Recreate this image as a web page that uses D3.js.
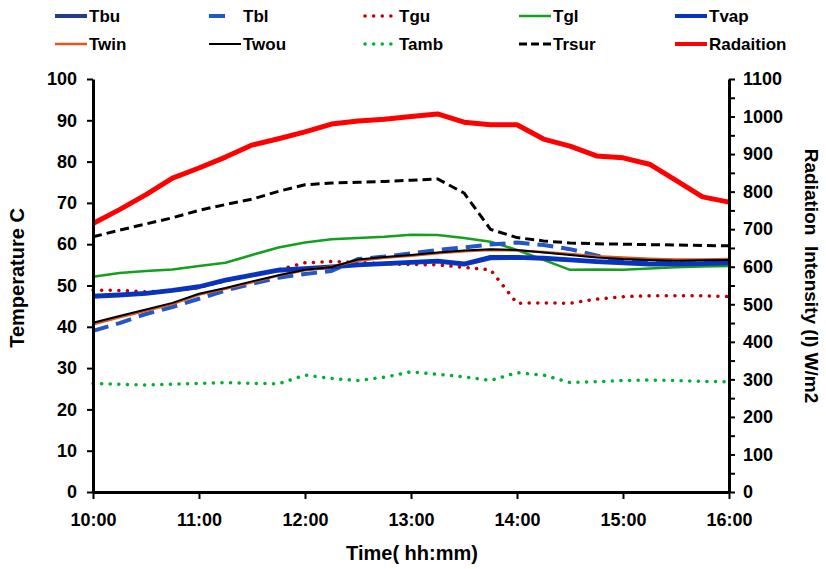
<!DOCTYPE html>
<html>
<head>
<meta charset="utf-8">
<script src="https://cdn.jsdelivr.net/npm/d3@7/dist/d3.min.js"></script>
<style>
  body { margin: 0; background: #fff; }
  text { font-family: "Liberation Sans", Arial, sans-serif; font-weight: bold; fill: #000; }
</style>
</head>
<body>
<svg id="chart" width="826" height="569"></svg>
<script>
// readings every 15 min
var times = ["10:00","10:15","10:30","10:45","11:00","11:15","11:30","11:45","12:00","12:15","12:30","12:45",
  "13:00","13:15","13:30","13:45","14:00","14:15","14:30","14:45","15:00","15:15","15:30","15:45","16:00"];
var hourTicks = ["10:00","11:00","12:00","13:00","14:00","15:00","16:00"];

var Tbu   = [47.3,47.6,48.0,48.7,49.6,51.2,52.4,53.6,54.0,54.4,54.9,55.2,55.5,55.8,55.1,56.6,56.7,56.5,56.1,55.7,55.4,55.1,55.1,55.2,55.4];
var Tbl   = [39.0,40.9,43.1,44.8,46.8,48.8,50.4,51.9,52.8,53.5,56.4,57.0,57.8,58.6,59.2,59.9,60.4,59.8,58.8,57.3,56.0,55.6,55.4,55.4,55.5];
var Tgu   = [48.9,48.8,48.5,48.7,49.5,51.2,52.5,53.8,55.5,55.8,55.6,55.2,55.1,55.0,54.4,53.8,45.7,45.8,45.7,46.7,47.3,47.5,47.5,47.5,47.3];
var Tgl   = [52.1,53.0,53.5,53.9,54.7,55.5,57.4,59.2,60.4,61.2,61.5,61.8,62.3,62.2,61.5,60.6,58.6,56.2,53.8,53.9,53.8,54.1,54.4,54.6,54.7];
var Tvap  = [47.5,47.8,48.2,48.9,49.8,51.4,52.6,53.8,54.2,54.6,55.1,55.4,55.7,56.0,55.3,56.9,56.9,56.7,56.3,55.9,55.6,55.3,55.3,55.4,55.6];
var Twin  = [40.6,42.3,43.9,45.5,47.8,49.2,50.8,52.4,53.7,54.6,56.0,56.7,57.2,57.8,58.3,58.6,58.5,58.1,57.6,57.1,56.8,56.5,56.3,56.3,56.4];
var Twou  = [41.0,42.6,44.2,45.8,48.0,49.4,51.0,52.5,53.8,54.5,56.3,56.9,57.4,58.0,58.5,58.8,58.6,58.0,57.4,56.8,56.4,56.2,56.0,56.1,56.2];
var Tamb  = [26.3,26.1,25.9,26.1,26.3,26.5,26.3,26.2,28.3,27.5,27.0,27.8,29.1,28.5,27.9,27.0,28.9,28.3,26.5,26.7,27.0,27.1,27.0,26.8,26.7];
var Trsur = [61.8,63.4,64.9,66.4,68.2,69.6,70.9,72.8,74.4,74.8,75.0,75.2,75.5,75.8,72.4,63.6,61.6,60.8,60.3,60.1,60.0,59.9,59.8,59.7,59.6];
var Radiation = [715,752,792,836,863,892,924,941,959,980,988,993,1000,1007,985,978,978,940,921,895,890,873,830,786,772];

var tempTicks = d3.range(0, 101, 10);
var radTicks = d3.range(0, 1101, 50);

var seriesOrder = ["Tbu","Tbl","Tgu","Tgl","Tvap","Twin","Twou","Tamb","Trsur","Radaition"];
var seriesData = {Tbu: Tbu, Tbl: Tbl, Tgu: Tgu, Tgl: Tgl, Tvap: Tvap, Twin: Twin, Twou: Twou, Tamb: Tamb, Trsur: Trsur, Radaition: Radiation};

// look of each line
var styles = {
  Tbu:   {color: "#1f3d8f", width: 4,   dash: null},
  Tbl:   {color: "#2257c8", width: 4,   dash: "16 8", legendDash: "16 40"},
  Tgu:   {color: "#c00000", width: 3.5, dash: "0.1 8.5", cap: "round"},
  Tgl:   {color: "#14a01e", width: 2.5, dash: null},
  Tvap:  {color: "#0534c4", width: 4,   dash: null},
  Twin:  {color: "#e0561c", width: 2.5, dash: null},
  Twou:  {color: "#000000", width: 2,   dash: null},
  Tamb:  {color: "#00b034", width: 3.5, dash: "0.1 8.5", cap: "round"},
  Trsur: {color: "#000000", width: 3,   dash: "9 5"},
  Radaition: {color: "#ff0000", width: 5, dash: null}
};
var drawOrder = ["Tamb","Tgu","Tgl","Tbl","Tbu","Tvap","Twin","Twou","Trsur","Radaition"];

var svg = d3.select("#chart");
var margin = {left: 93, right: 826 - 729, top: 79, bottom: 569 - 492};
var W = 826 - margin.left - margin.right;
var H = 569 - margin.top - margin.bottom;

var parseT = function(s){ var p = s.split(":"); return (+p[0] - 10) * 60 + (+p[1]); };

var x = d3.scaleLinear().domain([0, 360]).range([0, W]);
var yL = d3.scaleLinear().domain([0, 100]).range([H, 0]);
var yR = d3.scaleLinear().domain([0, 1100]).range([H, 0]);

var g = svg.append("g").attr("transform", "translate(" + margin.left + "," + margin.top + ")");

// lines
drawOrder.forEach(function(name){
  var st = styles[name];
  var y = name == "Radaition" ? yR : yL;
  var line = d3.line()
    .x(function(d, i){ return x(parseT(times[i])); })
    .y(function(d){ return y(d); });
  g.append("path")
    .datum(seriesData[name])
    .attr("d", line)
    .attr("fill", "none")
    .attr("stroke", st.color)
    .attr("stroke-width", st.width)
    .attr("stroke-dasharray", st.dash)
    .attr("stroke-linecap", st.cap || "butt")
    .attr("stroke-linejoin", "round");
});

// axes
function styleAxis(sel){
  sel.select(".domain").attr("stroke", "#000").attr("stroke-width", 3);
  sel.selectAll(".tick line").attr("stroke", "#000").attr("stroke-width", 2);
  sel.selectAll(".tick text").style("font-size", "18px").style("font-weight", "bold")
    .style("font-family", "'Liberation Sans', Arial, sans-serif").attr("fill", "#000");
}

g.append("g")
  .call(d3.axisLeft(yL).tickValues(tempTicks).tickSize(6).tickSizeOuter(0).tickPadding(10))
  .call(styleAxis);

g.append("g").attr("transform", "translate(" + W + ",0)")
  .call(d3.axisRight(yR).tickValues(radTicks).tickSize(6).tickSizeOuter(0).tickPadding(8)
    .tickFormat(function(d){ return d % 100 === 0 ? d : ""; }))
  .call(styleAxis);

g.append("g").attr("transform", "translate(0," + H + ")")
  .call(d3.axisBottom(x).tickValues(hourTicks.map(parseT)).tickSize(7).tickSizeOuter(0).tickPadding(14)
    .tickFormat(function(d, i){ return hourTicks[i]; }))
  .call(styleAxis);

// axis titles
svg.append("text")
  .attr("x", 412).attr("y", 560)
  .attr("text-anchor", "middle")
  .style("font-size", "20px")
  .text("Time( hh:mm)");

svg.append("text")
  .attr("transform", "translate(24,278) rotate(-90)")
  .attr("text-anchor", "middle")
  .style("font-size", "20px")
  .text("Temperature C");

svg.append("text")
  .attr("transform", "translate(805,276) rotate(90)")
  .attr("text-anchor", "middle")
  .style("font-size", "19px")
  .style("white-space", "pre")
  .text("Radiation  Intensity (I) W/m2");

// legend: 5 columns x 2 rows
var legCols = [55, 209, 365, 519, 675];
var legRows = [16, 44];
var leg = svg.append("g");
seriesOrder.forEach(function(name, i){
  var st = styles[name];
  var cx = legCols[i % 5], cy = legRows[Math.floor(i / 5)];
  leg.append("line")
    .attr("x1", cx).attr("x2", cx + 32)
    .attr("y1", cy).attr("y2", cy)
    .attr("stroke", st.color)
    .attr("stroke-width", Math.min(st.width, 4))
    .attr("stroke-dasharray", st.legendDash || (name == "Trsur" ? "8 4" : st.dash))
    .attr("stroke-linecap", st.cap || "butt");
  leg.append("text")
    .attr("x", cx + 34).attr("y", cy)
    .attr("dy", "0.35em")
    .style("font-size", "17px")
    .text(name);
});
</script>
</body>
</html>
